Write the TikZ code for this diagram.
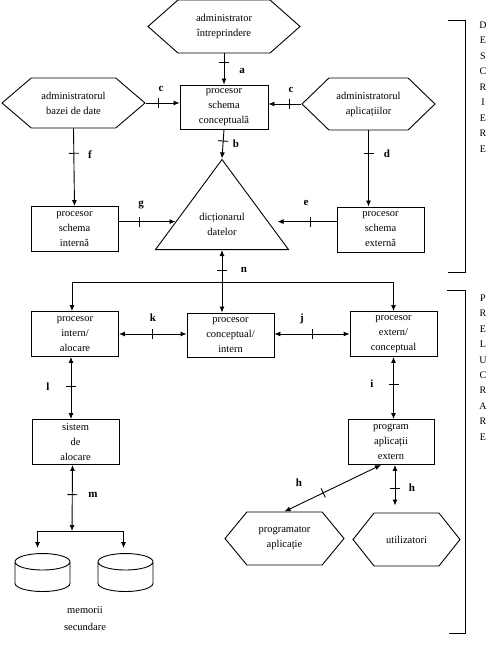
\documentclass[tikz,border=0pt]{standalone}
\usepackage{fontspec}
\setmainfont{Liberation Serif}
\usetikzlibrary{arrows.meta, shapes.geometric, shapes.symbols, calc,
                decorations.markings}
\colorlet{colLinie}{black}
\colorlet{colText}{black}
\tikzset{
  cutie/.style={
    draw=colLinie, line width=0.9pt, inner sep=0pt,
    minimum width=87pt, minimum height=45pt,
    align=center, text=colText, font=\fontsize{10.5}{15}\selectfont
  },
  actor/.style={cutie, signal, signal to=west and east, signal pointer angle=#1},
  triunghi/.style={cutie, isosceles triangle, shape border rotate=90,
    isosceles triangle stretches, minimum width=133pt, minimum height=90pt},
  disc/.style={draw=colLinie, line width=0.9pt, cylinder, shape border rotate=90,
    aspect=0.3, inner xsep=27.5pt, inner ysep=0pt, minimum height=38pt},
  sageata/.style={-{Latex[length=6pt, width=5pt]}, line width=0.9pt, colLinie},
  sageataDubla/.style={{Latex[length=6pt, width=5pt]}-{Latex[length=6pt, width=5pt]},
    line width=0.9pt, colLinie},
  marcaj/.style={decoration={markings, mark=at position #1 with
    {\draw[-, shorten >=0pt, shorten <=0pt] (0,-5pt) -- (0,5pt);}},
    postaction={decorate}},
  eticheta/.style={font=\fontsize{11}{11}\selectfont\bfseries, inner sep=0pt, text=colText},
  litere/.style={align=center, inner sep=0pt, text=colText},
  acolada/.style={line width=1pt, colLinie},
}

\begin{document}
\begin{tikzpicture}[x=1pt, y=-1pt]
  \useasboundingbox (0,0) rectangle (494,652);
  % descriere
  \node[actor=83, minimum width=152pt, minimum height=53pt] (adminIntr) at (224,26.5) {administrator\\întreprindere};
  \node[actor=81, minimum width=143pt, minimum height=50pt] (adminBD) at (73.5,103) {administratorul\\bazei de date};
  \node[actor=88, minimum width=133pt, minimum height=52pt] (adminApl) at (368.5,104) {administratorul\\aplicațiilor};
  \node[cutie, minimum width=88pt, minimum height=44pt] (procConc) at (224,107) {procesor\\schema\\conceptuală};
  \node[cutie] (procInt) at (74.5,229) {procesor\\schema\\internă};
  \node[cutie] (procExt) at (380.5,229.5) {procesor\\schema\\externă};
  \node[triunghi, anchor=lower side] (dict) at (222,250) {dicționarul\\datelor};
  % prelucrare
  \node[cutie] (procIntAloc) at (75,334) {procesor\\intern/\\alocare};
  \node[cutie, minimum height=44pt] (procConcInt) at (230.5,335) {procesor\\conceptual/\\intern};
  \node[cutie] (procExtConc) at (393.5,334) {procesor\\extern/\\conceptual};
  \node[cutie] (sistAloc) at (75.5,442) {sistem\\de\\alocare};
  \node[cutie, minimum width=86pt] (progApl) at (391,442) {program\\aplicații\\extern};
  \node[actor=101, minimum width=119pt, minimum height=53pt] (programator) at (284.5,538.5) {programator\\aplicație};
  \node[actor=103, minimum width=107pt, minimum height=53pt] (utilizatori) at (406.5,539.5) {utilizatori};
  \node[disc] (mem1) at (42.5,581) {};
  \node[disc] (mem2) at (125.5,581) {};
  \node[litere, font=\fontsize{10.5}{17}\selectfont] (memorii) at (85,618.5) {memorii\\secundare};
  \coordinate (nodN) at (222,282);
  \coordinate (nodMem) at (72,531);
  \coordinate (dictG) at ($(dict.left corner)!0.31!(dict.apex)$);
  \coordinate (dictE) at ($(dict.right corner)!0.31!(dict.apex)$);

  \draw[sageata, marcaj=0.3] (adminIntr.south) -- (procConc.north);
  \draw[sageata, marcaj=0.37] (adminBD.east) -- (adminBD.east -| procConc.west);
  \draw[sageata, marcaj=0.35] (adminApl.west) -- (adminApl.west -| procConc.east);
  \draw[sageata, marcaj=0.4] (procConc.south) -- (dict.apex);
  \draw[sageata, marcaj=0.32] (adminBD.south) -- (procInt.north);
  \draw[sageata, marcaj=0.3] (adminApl.south) -- (adminApl.south |- procExt.north);
  \draw[sageata, marcaj=0.37] (dictG -| procInt.east) -- (dictG);
  \draw[sageata, marcaj=0.38, shorten >=9pt] (dictE -| procExt.west) -- (dictE);
  \draw[sageataDubla, marcaj=0.32] (dict.lower side) -- (dict.lower side |- procConcInt.north);
  \draw[sageata] (nodN) -| ([xshift=-3pt]procIntAloc.north);
  \draw[sageata] (nodN) -| (procExtConc.north);
  \draw[sageataDubla, marcaj=0.5] (procIntAloc.east) -- (procIntAloc.east -| procConcInt.west);
  \draw[sageataDubla, marcaj=0.5] (procExtConc.west -| procConcInt.east) -- (procExtConc.west);
  \draw[sageataDubla, marcaj=0.48] ([xshift=-4pt]procIntAloc.south) -- ([xshift=-4pt]procIntAloc.south |- sistAloc.north);
  \draw[sageataDubla, marcaj=0.45] (procExtConc.south) -- (procExtConc.south |- progApl.north);
  \draw[sageataDubla, marcaj=0.45] ([xshift=-3pt]sistAloc.south) -- (nodMem);
  \draw[sageata, shorten >=5pt] (nodMem) -| ([xshift=-5pt]mem1.north);
  \draw[sageata, shorten >=5pt] (nodMem) -| ([xshift=-2pt]mem2.north);
  \draw[sageataDubla, marcaj=0.6] ([xshift=-10pt]progApl.south) -- (programator.north);
  \draw[sageataDubla, marcaj=0.5, shorten >=7pt] ([xshift=4pt]progApl.south) -- ([xshift=4pt]progApl.south |- utilizatori.north);

  \node[eticheta] (etA) at (242,71) {a};
  \node[eticheta] (etC1) at (161,89) {c};
  \node[eticheta] (etC2) at (291,90) {c};
  \node[eticheta] (etB) at (236,144) {b};
  \node[eticheta] (etF) at (90,155) {f};
  \node[eticheta] (etD) at (387,154) {d};
  \node[eticheta] (etG) at (141,205) {g};
  \node[eticheta] (etE) at (306,203) {e};
  \node[eticheta] (etN) at (244,270) {n};
  \node[eticheta] (etK) at (153,318) {k};
  \node[eticheta] (etJ) at (302,319) {j};
  \node[eticheta] (etL) at (48,387) {l};
  \node[eticheta] (etI) at (372,384) {i};
  \node[eticheta] (etM) at (93,495) {m};
  \node[eticheta] (etH1) at (299,483) {h};
  \node[eticheta] (etH2) at (412,488) {h};

  % acolade laterale
  \draw[acolada] (448,21) -- (465,21) -- (465,272) -- (448,272);
  \draw[acolada] (447,290) -- (465,290) -- (465,633) -- (449,633);
  \node[litere, font=\fontsize{10}{15.5}\selectfont] (descriere) at (483,87) {D\\E\\S\\C\\R\\I\\E\\R\\E};
  \node[litere, font=\fontsize{10}{15.4}\selectfont] (prelucrare) at (483,367.5) {P\\R\\E\\L\\U\\C\\R\\A\\R\\E};
\end{tikzpicture}
\end{document}
